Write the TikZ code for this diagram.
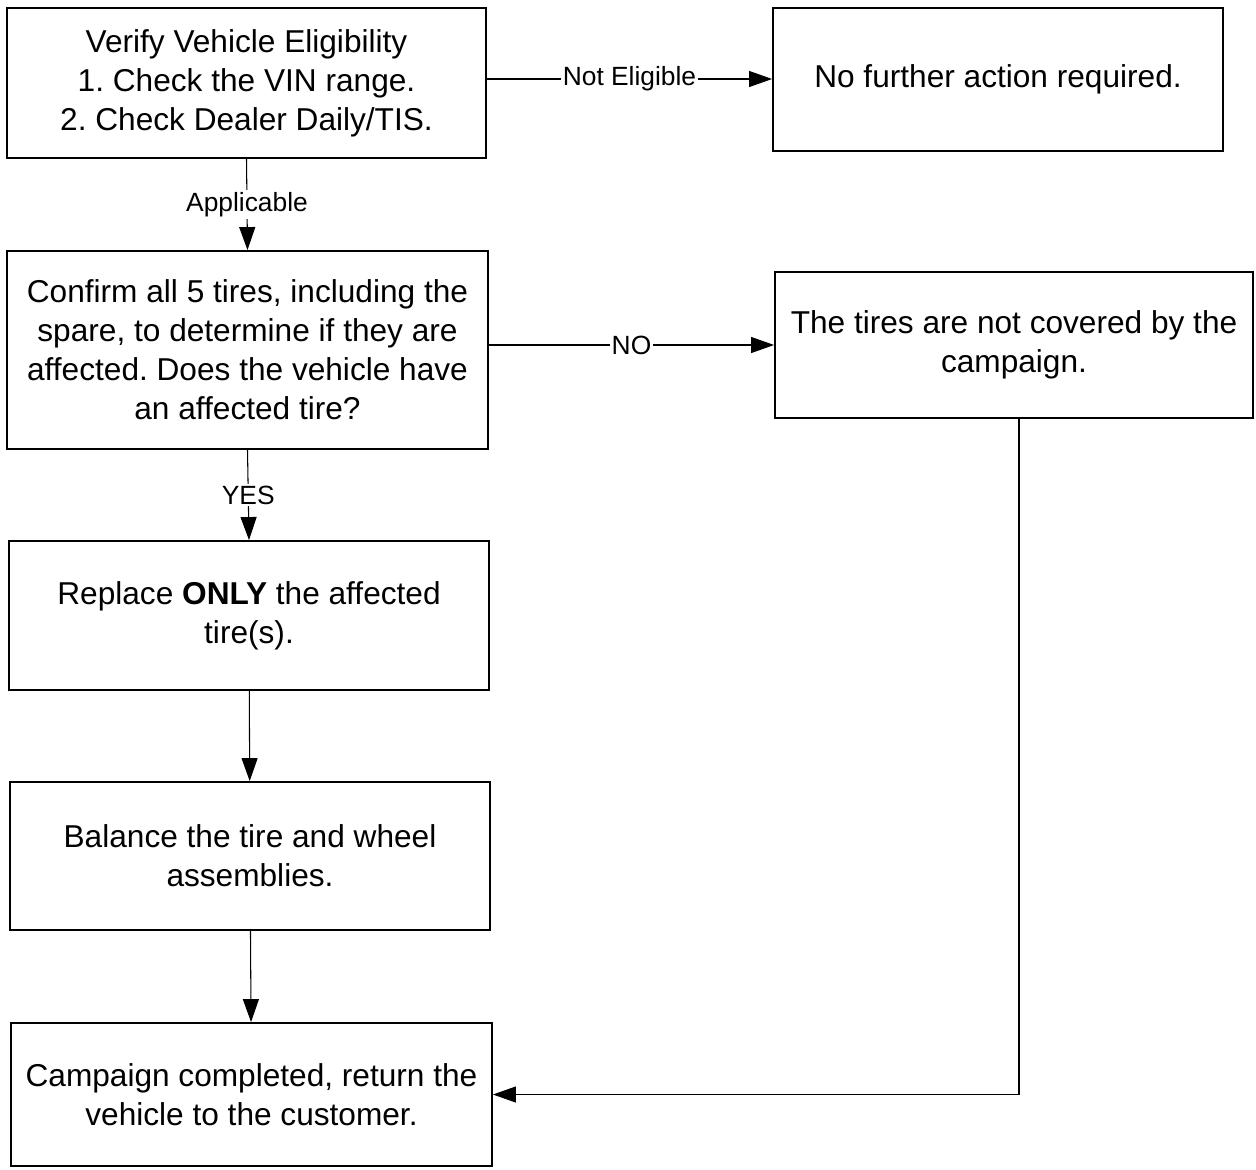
\documentclass[tikz,border=0pt]{standalone}
\usepackage{fontspec}
\setmainfont{Liberation Sans}
\usetikzlibrary{arrows.meta,calc}
\frenchspacing
\tikzset{
  stepbox/.style = {draw, line width=1.1pt, align=center, inner sep=0pt,
    font=\fontsize{18}{22.2}\selectfont},
  flow/.style = {line width=0.6pt, -{Triangle[length=0.46cm,width=0.32cm]}},
  lbl/.style = {fill=white, inner sep=1pt, font=\fontsize{15}{18}\selectfont}
}
\begin{document}
\begin{tikzpicture}[x=0.02cm,y=-0.02cm]
  \useasboundingbox (0,0) rectangle (1256,1169);
  % boxes
  \node[stepbox, minimum width=9.58cm, minimum height=3.0cm] (verify) at (246.5,83)
    {Verify Vehicle Eligibility\\1. Check the VIN range.\\2. Check Dealer Daily/TIS.};
  \node[stepbox, minimum width=9.0cm, minimum height=2.86cm] (nofurther) at (998,79.5)
    {No further action required.};
  \node[stepbox, minimum width=9.62cm, minimum height=3.96cm] (confirm) at (247.5,350)
    {Confirm all 5 tires, including the\\spare, to determine if they are\\affected. Does the vehicle have\\an affected tire?};
  \node[stepbox, minimum width=9.56cm, minimum height=2.92cm] (notcovered) at (1014,345)
    {The tires are not covered by the\\campaign.};
  \node[stepbox, minimum width=9.6cm, minimum height=2.98cm] (replace) at (249,615.5)
    {Replace \textbf{ONLY} the affected\\tire(s).};
  \node[stepbox, minimum width=9.6cm, minimum height=2.96cm] (balance) at (250,856)
    {Balance the tire and wheel\\assemblies.};
  \node[stepbox, minimum width=9.62cm, minimum height=2.86cm] (campaign) at (251.5,1094.5)
    {Campaign completed, return the\\vehicle to the customer.};
  % connectors
  \coordinate (verifyout) at ($(verify.east)+(0,-4)$);
  \coordinate (coveredout) at ($(notcovered.south)+(5,0)$);
  \draw[flow] (verifyout) -- (verifyout -| nofurther.west)
    node[lbl, midway] {Not Eligible};
  \draw[flow] (verify.south) -- (confirm.north)
    node[lbl, midway] {Applicable};
  \draw[flow] (confirm.east |- notcovered) -- (notcovered.west)
    node[lbl, midway] {NO};
  \draw[flow] (confirm.south) -- (replace.north)
    node[lbl, midway] {YES};
  \draw[flow] (replace) -- (balance);
  \draw[flow] (balance) -- (campaign);
  \draw[flow] (coveredout) |- (campaign.east);
\end{tikzpicture}
\end{document}
